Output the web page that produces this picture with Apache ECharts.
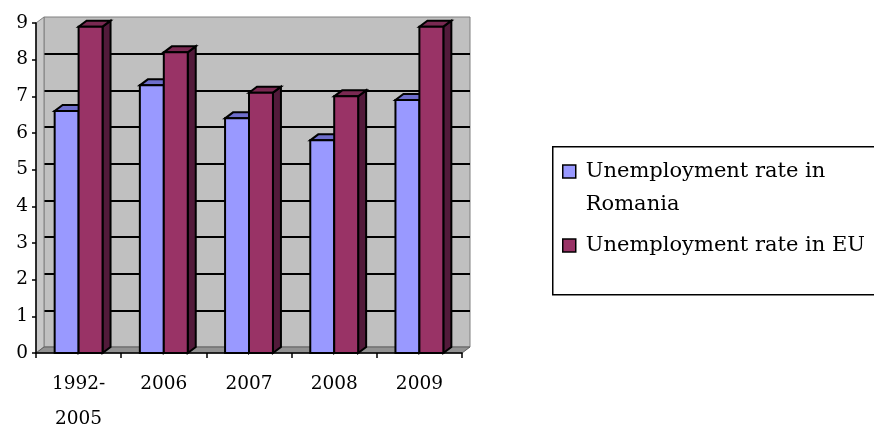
<!DOCTYPE html>
<html><head><meta charset="utf-8">
<script src="https://cdn.jsdelivr.net/npm/echarts@6/dist/echarts.min.js"></script>
<style>html,body{margin:0;padding:0;background:#fff}#c{width:874px;height:432px}</style>
</head><body><div id="c"></div>
<script>
// ---- data ----
const categories = ['1992-\n2005', '2006', '2007', '2008', '2009'];
const romania = [6.6, 7.3, 6.4, 5.8, 6.9];
const eu = [8.9, 8.2, 7.1, 7.0, 8.9];
const seriesNames = ['Unemployment rate in Romania', 'Unemployment rate in EU'];
const yMin = 0, yMax = 9, yStep = 1;

// ---- style constants ----
const FONT = 'DejaVu Serif';
const DX = 8, DY = 6;           // 3D depth offset
const BAR_FRAC = 0.281;         // bar width as fraction of category band
const FRONT = {left: 36, right: 412, top: 23, bottom: 79};
const BACK = {left: FRONT.left + DX, right: FRONT.right - DX, top: FRONT.top - DY, bottom: FRONT.bottom + DY};
const COLORS = [
  {front: '#9999ff', top: '#6e6ecc', side: '#5a5ab0'},
  {front: '#993366', top: '#7a2952', side: '#521a3a'}
];

function barRender(side) {
  const c = COLORS[side];
  return function (params, api) {
    const idx = api.value(0), val = api.value(1);
    const top = api.coord([idx, val]);
    const base = api.coord([idx, 0]);
    const band = api.size([1, 0])[0];
    const w = band * BAR_FRAC;
    const x0 = side === 0 ? top[0] - w : top[0];
    const x1 = x0 + w;
    const y0 = top[1], y1 = base[1];
    const st = (fill) => ({fill: fill, stroke: '#000', lineWidth: 2, lineJoin: 'miter'});
    return {type: 'group', children: [
      {type: 'polygon', shape: {points: [[x1, y0], [x1, y1], [x1 + DX, y1 - DY], [x1 + DX, y0 - DY]]}, style: st(c.side)},
      {type: 'polygon', shape: {points: [[x0, y0], [x1, y0], [x1 + DX, y0 - DY], [x0 + DX, y0 - DY]]}, style: st(c.top)},
      {type: 'rect', shape: {x: x0, y: y0, width: w, height: y1 - y0}, style: st(c.front)}
    ]};
  };
}

function wallRender(params, api) {
  const band = api.size([1, 0])[0];
  const left = api.coord([0, yMin])[0] - band / 2;
  const right = api.coord([categories.length - 1, yMin])[0] + band / 2;
  const y0 = api.coord([0, yMin])[1];
  const yT = api.coord([0, yMax])[1];
  return {type: 'group', children: [
    {type: 'polygon', shape: {points: [[left, y0], [left + DX, y0 - DY], [left + DX, yT - DY], [left, yT]]},
      style: {fill: '#c8c8c8', stroke: '#808080', lineWidth: 1}},
    {type: 'polygon', shape: {points: [[left, y0], [right, y0], [right + DX, y0 - DY], [left + DX, y0 - DY]]},
      style: {fill: '#929292', stroke: '#606060', lineWidth: 1}}
  ]};
}

const splitColors = [];
for (let v = yMin; v <= yMax; v += yStep) splitColors.push(v === yMin || v === yMax ? 'rgba(0,0,0,0)' : '#000');

const chart = echarts.init(document.getElementById('c'), null, {renderer: 'canvas'});
chart.setOption({
  animation: false,
  backgroundColor: '#fff',
  textStyle: {fontFamily: FONT},
  grid: [
    Object.assign({show: false, containLabel: false, outerBoundsMode: 'none'}, FRONT),
    Object.assign({show: true, backgroundColor: '#c0c0c0', borderColor: '#808080', borderWidth: 1,
      containLabel: false, outerBoundsMode: 'none', z: 0}, BACK)
  ],
  xAxis: [
    {type: 'category', gridIndex: 0, data: categories, z: 5,
      axisLine: {show: true, lineStyle: {color: '#000', width: 1.5}},
      axisTick: {show: true, alignWithLabel: false, length: 5, lineStyle: {color: '#000', width: 1.5}},
      axisLabel: {interval: 0, color: '#000', fontFamily: FONT, fontSize: 18.5, lineHeight: 35, margin: 14},
      splitLine: {show: false}},
    {type: 'category', gridIndex: 1, data: categories, show: false}
  ],
  yAxis: [
    {type: 'value', gridIndex: 0, min: yMin, max: yMax, interval: yStep, z: 5,
      axisLine: {show: true, lineStyle: {color: '#000', width: 1.5}},
      axisTick: {show: true, length: 4, lineStyle: {color: '#000', width: 1.5}},
      axisLabel: {color: '#000', fontFamily: FONT, fontSize: 18.5, margin: 8},
      splitLine: {show: false}},
    {type: 'value', gridIndex: 1, min: yMin, max: yMax, interval: yStep,
      axisLine: {show: false}, axisTick: {show: false}, axisLabel: {show: false},
      splitLine: {show: true, lineStyle: {color: splitColors, width: 2}}}
  ],
  legend: {
    orient: 'vertical', left: 562, top: 122, padding: 0,
    itemWidth: 13, itemHeight: 13, itemGap: 8,
    icon: 'rect',
    itemStyle: {borderColor: '#000', borderWidth: 1.5},
    textStyle: {color: '#000', fontFamily: FONT, fontSize: 21, lineHeight: 33, padding: [0, 0, 0, 5]},
    data: seriesNames,
    formatter: function (name) {
      return name === seriesNames[0] ? '\u00a0\nUnemployment rate in\nRomania' : name;
    }
  },
  graphic: [
    {type: 'rect', left: 552, top: 146, z: -1, shape: {width: 340, height: 148},
      style: {fill: '#fff', stroke: '#000', lineWidth: 1.5}}
  ],
  series: [
    {type: 'custom', name: 'walls', xAxisIndex: 0, yAxisIndex: 0, z: 1, silent: true,
      renderItem: wallRender, data: [[0, 0]]},
    {type: 'custom', name: seriesNames[0], xAxisIndex: 0, yAxisIndex: 0, z: 2,
      itemStyle: {color: COLORS[0].front},
      renderItem: barRender(0), encode: {x: 0, y: 1},
      data: romania.map((v, i) => [i, v])},
    {type: 'custom', name: seriesNames[1], xAxisIndex: 0, yAxisIndex: 0, z: 3,
      itemStyle: {color: COLORS[1].front},
      renderItem: barRender(1), encode: {x: 0, y: 1},
      data: eu.map((v, i) => [i, v])}
  ]
});
</script>
</body></html>
